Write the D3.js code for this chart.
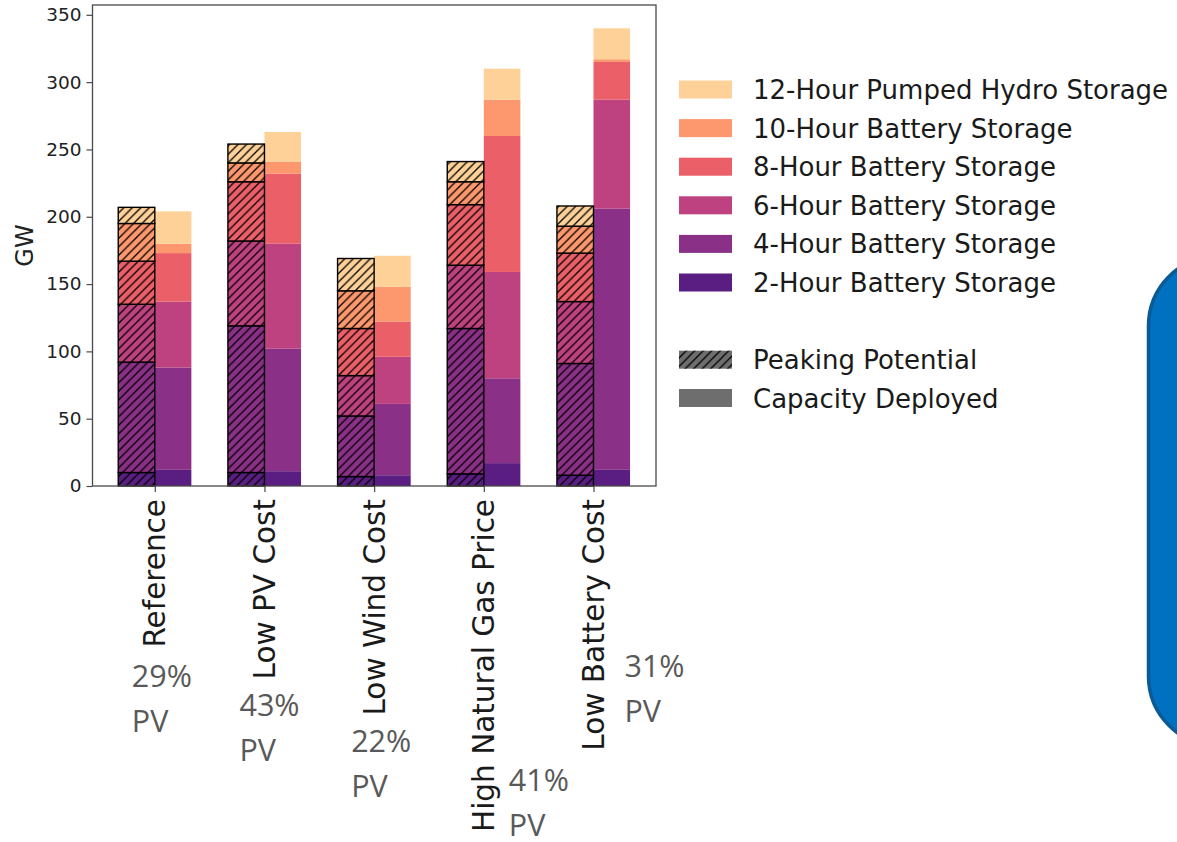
<!DOCTYPE html>
<html>
<head>
<meta charset="utf-8">
<script src="https://cdn.jsdelivr.net/npm/d3@7"></script>
<style>
  html, body { margin: 0; padding: 0; background: #ffffff; }
  svg { display: block; }
</style>
</head>
<body>
<svg id="chart" width="1177" height="842"></svg>
<script>
// Scenario names along the x axis
const categories = ["Reference", "Low PV Cost", "Low Wind Cost", "High Natural Gas Price", "Low Battery Cost"];

// Storage technologies, bottom of the stack first
const technologies = ["2-Hour Battery Storage", "4-Hour Battery Storage", "6-Hour Battery Storage",
                      "8-Hour Battery Storage", "10-Hour Battery Storage", "12-Hour Pumped Hydro Storage"];

// Peaking potential (GW) per technology, one value per scenario
const peak2h  = [10, 10, 7, 9, 8];
const peak4h  = [82, 109, 45, 108, 83];
const peak6h  = [43, 63, 30, 47, 46];
const peak8h  = [32, 44, 35, 45, 36];
const peak10h = [28, 14, 28, 17, 20];
const peak12h = [12, 14, 24, 15, 15];

// Capacity deployed (GW) per technology, one value per scenario
const deploy2h  = [12, 11, 8, 17, 12];
const deploy4h  = [76, 91, 53, 63, 194];
const deploy6h  = [49, 78, 35, 79, 81];
const deploy8h  = [36, 52, 26, 101, 28];
const deploy10h = [7, 9, 26, 27, 2];
const deploy12h = [24, 22, 23, 23, 23];

// PV share of generation in each scenario
const pvShare = ["29%", "43%", "22%", "41%", "31%"];

// Y axis ticks
const yTicks = [0, 50, 100, 150, 200, 250, 300, 350];

// ---- layout ----
const frame = { left: 92.5, right: 656, top: 5, bottom: 486 };
const keys = ["h2", "h4", "h6", "h8", "h10", "h12"];
const colors = [0.25, 0.38, 0.51, 0.64, 0.77, 0.9].map(t => d3.interpolateMagma(t));
// placement of the PV annotations: x offset from the tick, baseline of first line
const pvLabelPos = [[-23, 687], [-25, 716], [-23, 752], [25, 791], [31, 677]];

const peakTable = categories.map((c, i) => ({
  h2: peak2h[i], h4: peak4h[i], h6: peak6h[i], h8: peak8h[i], h10: peak10h[i], h12: peak12h[i]
}));
const deployTable = categories.map((c, i) => ({
  h2: deploy2h[i], h4: deploy4h[i], h6: deploy6h[i], h8: deploy8h[i], h10: deploy10h[i], h12: deploy12h[i]
}));

const stack = d3.stack().keys(keys);
const peakStack = stack(peakTable);
const deployStack = stack(deployTable);

const svg = d3.select("#chart");

const x = d3.scaleLinear().domain([-0.568, 4.57]).range([frame.left, frame.right]);
const y = d3.scaleLinear().domain([0, 357.3]).range([frame.bottom, frame.top]);
const barW = 1 / 3;

// diagonal hatch used for peaking potential
const defs = svg.append("defs");
const hp = 8.5;
const pat = defs.append("pattern")
  .attr("id", "hatch")
  .attr("patternUnits", "userSpaceOnUse")
  .attr("width", hp).attr("height", hp);
pat.append("path")
  .attr("d", `M${-hp / 4},${hp / 4} L${hp / 4},${-hp / 4} M0,${hp} L${hp},0 M${hp * 3 / 4},${hp * 5 / 4} L${hp * 5 / 4},${hp * 3 / 4}`)
  .attr("stroke", "#000").attr("stroke-width", 1.3).attr("fill", "none");

const plot = svg.append("g");

// capacity deployed: plain stacked bars on the right of each tick
deployStack.forEach((layer, k) => {
  plot.selectAll(null).data(layer).enter().append("rect")
    .attr("x", (d, i) => x(i))
    .attr("width", x(barW) - x(0))
    .attr("y", d => y(d[1]))
    .attr("height", d => y(d[0]) - y(d[1]))
    .attr("fill", colors[k])
    .attr("fill-opacity", 0.95);
});

// peaking potential: hatched, outlined stacked bars on the left of each tick
peakStack.forEach((layer, k) => {
  const g = plot.append("g");
  g.selectAll(null).data(layer).enter().append("rect")
    .attr("x", (d, i) => x(i - barW))
    .attr("width", x(barW) - x(0))
    .attr("y", d => y(d[1]))
    .attr("height", d => y(d[0]) - y(d[1]))
    .attr("fill", colors[k])
    .attr("fill-opacity", 0.95);
  g.selectAll(null).data(layer).enter().append("rect")
    .attr("x", (d, i) => x(i - barW))
    .attr("width", x(barW) - x(0))
    .attr("y", d => y(d[1]))
    .attr("height", d => y(d[0]) - y(d[1]))
    .attr("fill", "url(#hatch)")
    .attr("stroke", "#000")
    .attr("stroke-width", 1.4);
});

// frame
svg.append("rect")
  .attr("x", frame.left).attr("y", frame.top)
  .attr("width", frame.right - frame.left).attr("height", frame.bottom - frame.top)
  .attr("fill", "none").attr("stroke", "#4a4a4a").attr("stroke-width", 1.3);

// y axis
const yAxis = d3.axisLeft(y).tickValues(yTicks).tickSize(6).tickPadding(5);
const yg = svg.append("g").attr("transform", `translate(${frame.left},0)`).call(yAxis);
yg.select(".domain").remove();
yg.selectAll(".tick line").attr("stroke", "#4a4a4a").attr("stroke-width", 1.2);
yg.selectAll(".tick text")
  .attr("font-family", "DejaVu Sans").attr("font-size", 18.5).attr("fill", "#222");

svg.append("text")
  .attr("transform", `translate(33,${(frame.top + frame.bottom) / 2}) rotate(-90)`)
  .attr("text-anchor", "middle")
  .attr("font-family", "DejaVu Sans").attr("font-size", 24).attr("fill", "#222")
  .text("GW");

// x axis ticks and rotated scenario labels
const xAxis = d3.axisBottom(x).tickValues(d3.range(categories.length))
  .tickSize(6).tickFormat(() => "");
const xg = svg.append("g").attr("transform", `translate(0,${frame.bottom})`).call(xAxis);
xg.select(".domain").remove();
xg.selectAll(".tick line").attr("stroke", "#4a4a4a").attr("stroke-width", 1.2);

svg.selectAll(null).data(categories).enter().append("text")
  .attr("transform", (d, i) => `translate(${x(i) + 10.5},499) rotate(-90)`)
  .attr("text-anchor", "end")
  .attr("font-family", "DejaVu Sans").attr("font-size", 29.5).attr("fill", "#1a1a1a")
  .text(d => d);

// PV share annotations
categories.forEach((c, i) => {
  const [dx, by] = pvLabelPos[i];
  const t = svg.append("text")
    .attr("font-family", "Open Sans").attr("font-size", 30.5).attr("fill", "#595959");
  t.append("tspan").attr("x", x(i) + dx).attr("y", by).text(pvShare[i]);
  t.append("tspan").attr("x", x(i) + dx).attr("y", by + 45).text("PV");
});

// legend
const legend = svg.append("g");
const legendX = 679, swW = 53, swH = 18, textX = 753, rowGap = 38.6;
const legendRows = technologies.slice().reverse();
legendRows.forEach((name, r) => {
  const cy = 89.5 + r * rowGap;
  legend.append("rect")
    .attr("x", legendX).attr("y", cy - swH / 2).attr("width", swW).attr("height", swH)
    .attr("fill", colors[keys.length - 1 - r]).attr("fill-opacity", 0.95);
  legend.append("text")
    .attr("x", textX).attr("y", cy + 9.5)
    .attr("font-family", "DejaVu Sans").attr("font-size", 26).attr("fill", "#1a1a1a")
    .text(name);
});
[["Peaking Potential", 359.7, true], ["Capacity Deployed", 398, false]].forEach(([name, cy, hatched]) => {
  legend.append("rect")
    .attr("x", legendX).attr("y", cy - swH / 2).attr("width", swW).attr("height", swH)
    .attr("fill", "#6e6e6e");
  if (hatched) {
    legend.append("rect")
      .attr("x", legendX).attr("y", cy - swH / 2).attr("width", swW).attr("height", swH)
      .attr("fill", "url(#hatch)");
  }
  legend.append("text")
    .attr("x", textX).attr("y", cy + 9.5)
    .attr("font-family", "DejaVu Sans").attr("font-size", 26).attr("fill", "#1a1a1a")
    .text(name);
});

// rounded callout panel at the right edge
svg.append("rect")
  .attr("x", 1148.5).attr("y", 256).attr("width", 200).attr("height", 490)
  .attr("rx", 70).attr("ry", 70)
  .attr("fill", "#0070c0").attr("stroke", "#0a5a96").attr("stroke-width", 3.5);
</script>
</body>
</html>
